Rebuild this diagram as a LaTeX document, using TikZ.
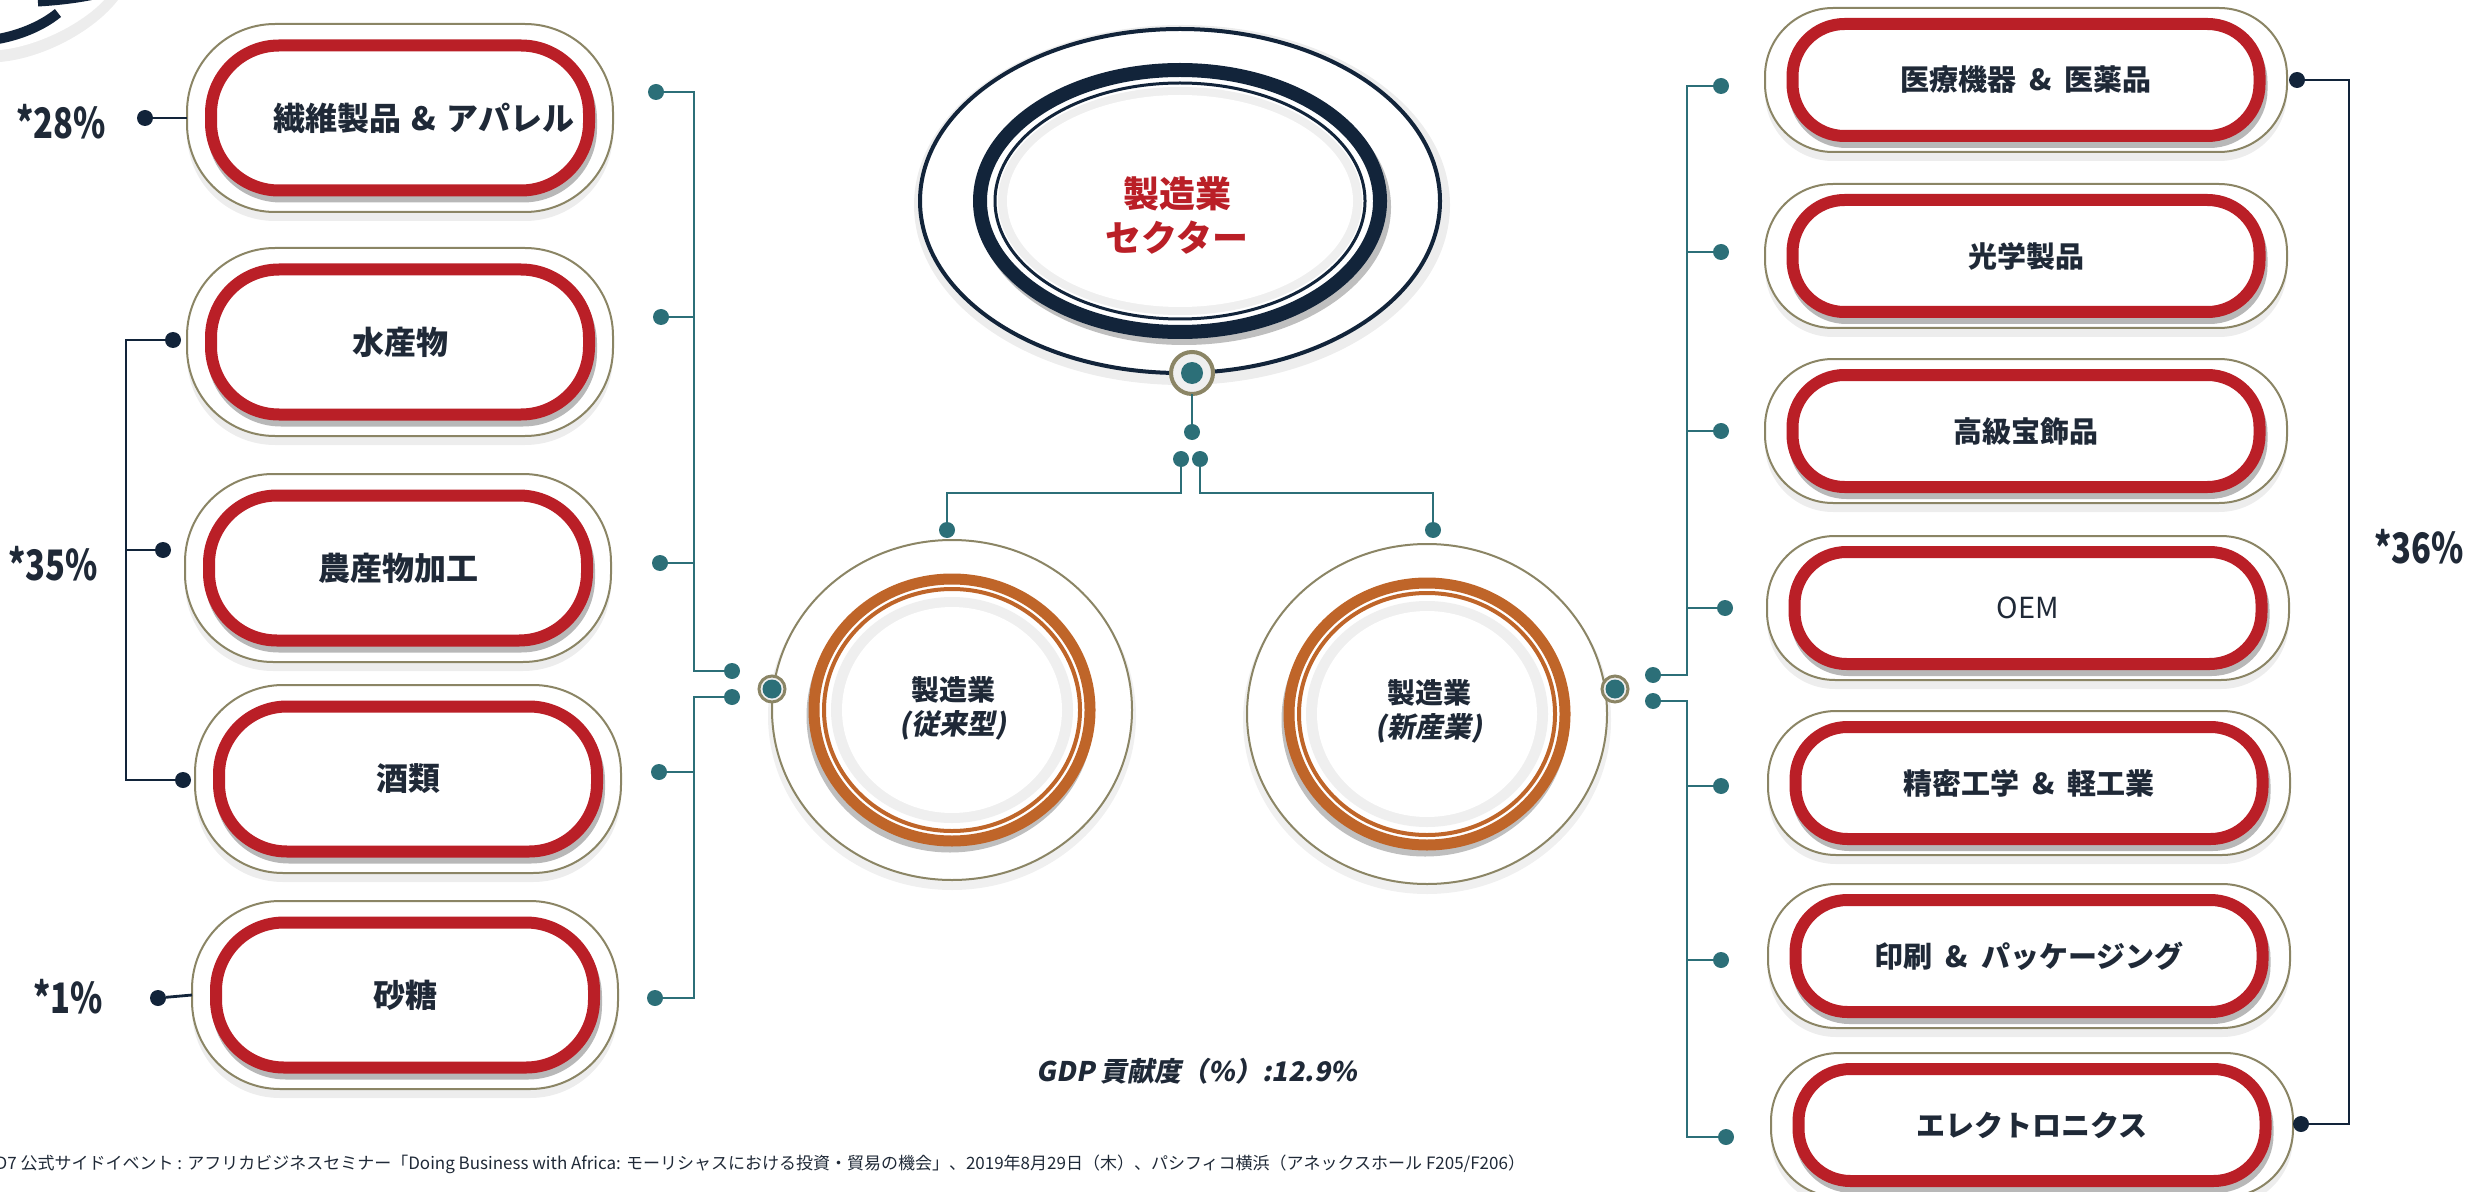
\documentclass[tikz,border=0pt]{standalone}
\usepackage{fontspec}
\newfontfamily\jp{Noto Sans CJK JP}
\newfontfamily\jpsl{Noto Sans CJK JP}[FakeSlant=0.18]
\newfontfamily\jpcond{Noto Sans CJK JP}[FakeStretch=0.78]
\usetikzlibrary{shapes.geometric}
\definecolor{cred}{HTML}{BA1F27}
\definecolor{cnavy}{HTML}{12243A}
\definecolor{cteal}{HTML}{2C6F78}
\definecolor{colive}{HTML}{8B8565}
\definecolor{corange}{HTML}{BF6529}
\definecolor{ctext}{HTML}{1F2937}
\definecolor{cband}{HTML}{EFEFEF}
\newcommand\amp{\hspace{0.45em}\&\hspace{0.45em}}
\newcommand\ampl{\hspace{0.32em}\&\hspace{0.32em}}
\tikzset{
 tline/.style={draw=cteal, line width=1.2pt},
 dline/.style={draw=cnavy, line width=1.4pt},
 tdot/.style={circle, fill=cteal, minimum size=8pt, inner sep=0pt, outer sep=0pt},
 ddot/.style={circle, fill=cnavy, minimum size=8pt, inner sep=0pt, outer sep=0pt},
 louter/.style={rectangle, draw=colive, line width=1pt, fill=white, rounded corners=44pt, minimum width=213pt, minimum height=94pt, inner sep=0pt, outer sep=0pt},
 lshade/.style={louter, draw=none, fill=black, opacity=0.07},
 lred/.style={rectangle, draw=cred, line width=6pt, fill=white, rounded corners=34pt, minimum width=189pt, minimum height=72.5pt, inner sep=0pt, outer sep=0pt, text=ctext, font=\jp\bfseries\fontsize{16pt}{19pt}\selectfont},
 lredshade/.style={lred, draw=black, fill=none, opacity=0.28},
 router/.style={louter, rounded corners=34pt, minimum width=261pt, minimum height=72pt},
 rshade/.style={router, draw=none, fill=black, opacity=0.07},
 rred/.style={lred, rounded corners=26pt, minimum width=233.5pt, minimum height=56pt, font=\jp\bfseries\fontsize{14.5pt}{17pt}\selectfont},
 rredshade/.style={rred, draw=black, fill=none, opacity=0.28},
 ering/.style={ellipse, inner sep=0pt, outer sep=0pt},
 ctxt/.style={text=ctext, align=center, font=\jp\bfseries\fontsize{14pt}{17pt}\selectfont},
 toptxt/.style={text=cred, align=center, font=\jp\bfseries\fontsize{18pt}{22pt}\selectfont},
 pct/.style={text=ctext, font=\jpcond\bfseries\fontsize{21pt}{24pt}\selectfont},
 gdp/.style={text=ctext, font=\jpsl\bfseries\fontsize{13.5pt}{16pt}\selectfont},
 foot/.style={text=ctext, inner sep=0pt, font=\jp\fontsize{8.5pt}{10pt}\selectfont},
 nring/.style={circle, draw=colive, fill=cband, inner sep=0pt, outer sep=0pt},
}
\newcommand\lpill[4]{%
 \node[lshade] at (#2,#3+9) {};
 \node[louter] (#1) at (#2,#3) {};
 \node[lredshade] at (#2+2,#3+6) {};
 \node[lred] (#1r) at (#2,#3) {#4};
}
\newcommand\rpill[4]{%
 \node[rshade] at (#2,#3+9) {};
 \node[router] (#1) at (#2,#3) {};
 \node[rredshade] at (#2+2,#3+6) {};
 \node[rred] (#1r) at (#2,#3) {#4};
}
\newcommand\midcirc[3]{%
 \node[ering, fill=black, opacity=0.06, minimum width=184pt, minimum height=174pt] at (#2,#3+6) {};
 \node[ering, draw=colive, line width=1pt, fill=white, minimum width=180pt, minimum height=170pt] (#1) at (#2,#3) {};
 \node[ering, draw=black, opacity=0.25, line width=5.5pt, minimum width=138pt, minimum height=131pt] at (#2-2,#3+6) {};
 \node[ering, draw=corange, line width=5.5pt, fill=white, minimum width=138pt, minimum height=131pt] (#1o) at (#2,#3) {};
 \node[ering, draw=corange, line width=2pt, minimum width=128pt, minimum height=121pt] at (#2,#3) {};
 \node[ering, fill=cband, minimum width=121pt, minimum height=113pt] at (#2,#3) {};
 \node[ering, fill=white, minimum width=110pt, minimum height=103pt] at (#2,#3) {};
}
\begin{document}
\begin{tikzpicture}[x=0.5pt,y=-0.5pt]
\useasboundingbox (0,0) rectangle (2476,1192);
\clip (0,0) rectangle (2476,1192);

% top-left corner fragment
\fill[black,opacity=0.07] (0,0) -- (118,0) .. controls (95,30) and (45,58) .. (0,62) -- cycle;
\fill[white] (0,0) -- (104,0) .. controls (84,22) and (40,46) .. (0,50) -- cycle;
\draw[cnavy,line width=5pt] (-2,39) .. controls (20,35) and (42,26) .. (58,13);
\draw[cnavy,line width=3.5pt] (38,3) .. controls (55,2) and (75,0) .. (94,-4);

% top ellipse
\node[ering, fill=black, opacity=0.07, minimum width=268pt, minimum height=180pt] at (1182,205) {};
\node[ering, draw=cnavy, line width=2pt, fill=white, minimum width=260pt, minimum height=172pt] (top) at (1180,201) {};
\node[ering, draw=black, opacity=0.25, line width=7pt, minimum width=200pt, minimum height=131pt] at (1184,207) {};
\node[ering, draw=cnavy, line width=7pt, fill=white, minimum width=200pt, minimum height=131pt] (topring) at (1180,201) {};
\node[ering, draw=cnavy, line width=1.5pt, minimum width=185pt, minimum height=118pt] at (1180,201) {};
\node[ering, fill=cband, minimum width=182pt, minimum height=114pt] at (1180,201) {};
\node[ering, fill=white, minimum width=173pt, minimum height=106pt] at (1180,201) {};
\node[toptxt] (toptext) at (1177,215) {製造業\\セクター};
\node[nring, line width=2pt, minimum size=21pt] (tnode) at (1192,373) {};
\node[circle, fill=cteal, inner sep=0pt, minimum size=11pt] (tnodec) at (1192,373) {};

% middle circles
\midcirc{cL}{952}{710}
\midcirc{cR}{1427}{714}
\node[ctxt] (cLt) at (953,708) {製造業\\{\jpsl\bfseries (従来型)}};
\node[ctxt] (cRt) at (1429,711) {製造業\\{\jpsl\bfseries (新産業)}};
\node[nring, line width=1.5pt, minimum size=13pt] (cLn) at (772,689) {};
\node[circle, fill=cteal, inner sep=0pt, minimum size=9.5pt] at (772,689) {};
\node[nring, line width=1.5pt, minimum size=13pt] (cRn) at (1615,689) {};
\node[circle, fill=cteal, inner sep=0pt, minimum size=9.5pt] at (1615,689) {};

% left pills
\lpill{L1}{400}{118}{\hspace{24pt}繊維製品\ampl アパレル}
\lpill{L2}{400}{342}{水産物}
\lpill{L3}{398}{568}{農産物加工}
\lpill{L4}{408}{779}{酒類}
\lpill{L5}{405}{995}{砂糖}

% right pills
\rpill{R1}{2026}{80}{医療機器\amp 医薬品}
\rpill{R2}{2026}{256}{光学製品}
\rpill{R3}{2026}{431}{高級宝飾品}
\rpill{R4}{2028}{608}{\mdseries OEM}
\rpill{R5}{2029}{783}{精密工学\amp 軽工業}
\rpill{R6}{2029}{956}{印刷\amp パッケージング}
\rpill{R7}{2032}{1125}{エレクトロニクス}

% top tree
\node[tdot] (tdot) at (1192,432) {};
\node[tdot] (pl) at (1181,459) {};
\node[tdot] (pr) at (1200,459) {};
\node[tdot] (cLd) at (947,530) {};
\node[tdot] (cRd) at (1433,530) {};
\coordinate (hbus) at (0,493);
\draw[tline] (tnode) -- (tdot);
\draw[tline] (pl) -- (pl |- hbus) -| (cLd);
\draw[tline] (pr) -- (pr |- hbus) -| (cRd);

% left teal tree
\coordinate (lbus) at (694,0);
\node[tdot] (l1d) at (656,92) {};
\node[tdot] (l2d) at (661,317) {};
\node[tdot] (l3d) at (660,563) {};
\node[tdot] (l4d) at (659,772) {};
\node[tdot] (l5d) at (655,998) {};
\node[tdot] (lcu) at (732,671) {};
\node[tdot] (lcl) at (732,697) {};
\draw[tline] (l1d) -- (l1d -| lbus) |- (lcu);
\draw[tline] (l2d) -- (l2d -| lbus);
\draw[tline] (l3d) -- (l3d -| lbus);
\draw[tline] (lcl) -- (lcl -| lbus) |- (l5d);
\draw[tline] (l4d) -- (l4d -| lbus);

% right teal tree
\coordinate (rbus) at (1687,0);
\node[tdot] (r1d) at (1721,86) {};
\node[tdot] (r2d) at (1721,252) {};
\node[tdot] (r3d) at (1721,431) {};
\node[tdot] (r4d) at (1725,608) {};
\node[tdot] (r5d) at (1721,786) {};
\node[tdot] (r6d) at (1721,960) {};
\node[tdot] (r7d) at (1726,1137) {};
\node[tdot] (rcu) at (1653,675) {};
\node[tdot] (rcl) at (1653,701) {};
\draw[tline] (r1d) -- (r1d -| rbus) |- (rcu);
\draw[tline] (r2d) -- (r2d -| rbus);
\draw[tline] (r3d) -- (r3d -| rbus);
\draw[tline] (rcl) -- (rcl -| rbus) |- (r7d);
\draw[tline] (r4d) -- (r4d -| rbus);
\draw[tline] (r5d) -- (r5d -| rbus);
\draw[tline] (r6d) -- (r6d -| rbus);

% left dark brackets
\coordinate (dbus) at (126,0);
\node[ddot] (ld1) at (145,118) {};
\node[ddot] (ld2) at (173,340) {};
\node[ddot] (ld3) at (163,550) {};
\node[ddot] (ld4) at (183,780) {};
\node[ddot] (ld5) at (158,998) {};
\draw[dline] (ld1) -- (L1.west);
\draw[dline] (ld2) -- (ld2 -| dbus) |- (ld4);
\draw[dline] (ld3) -- (ld3 -| dbus);
\draw[dline] (ld5) -- (L5.west);

% right dark bracket
\coordinate (rdbus) at (2349,0);
\node[ddot] (rd1) at (2297,80) {};
\node[ddot] (rd7) at (2301,1124) {};
\draw[dline] (rd1) -- (rd1 -| rdbus) |- (rd7);

% percentages
\node[pct] (p28) at (61,122) {*28\%};
\node[pct] (p35) at (53,564) {*35\%};
\node[pct] (p1) at (68,997) {*1\%};
\node[pct] (p36) at (2419,547) {*36\%};

% GDP and footer
\node[gdp] (gdp) at (1197,1071) {GDP 貢献度（\%）:12.9\%};
\node[foot, anchor=west] (foot) at (-41,1164) {TICAD7 公式サイドイベント : アフリカビジネスセミナー「Doing Business with Africa: モーリシャスにおける投資・貿易の機会」、2019年8月29日（木）、パシフィコ横浜（アネックスホール F205/F206）};
\end{tikzpicture}
\end{document}
